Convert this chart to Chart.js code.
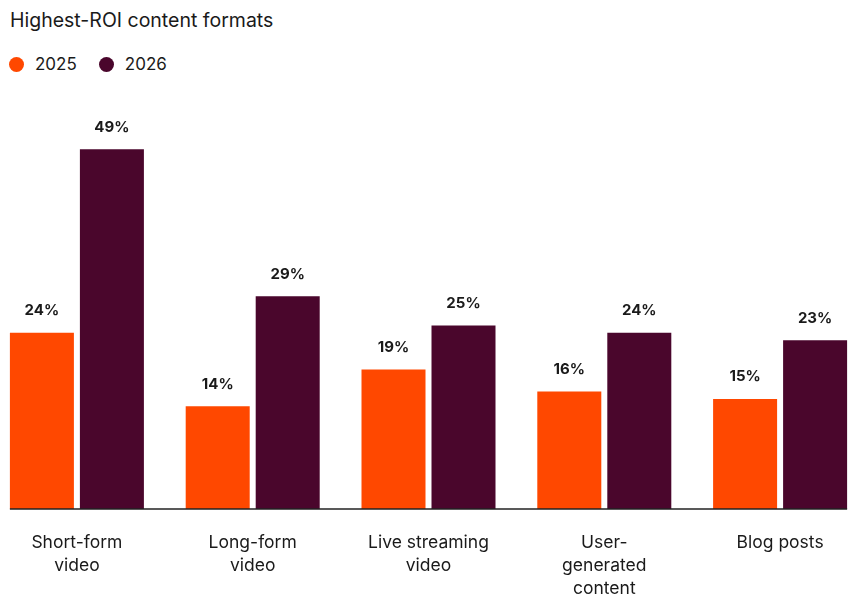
<!DOCTYPE html>
<html>
<head>
<meta charset="utf-8">
<script src="https://cdn.jsdelivr.net/npm/chart.js@4.4.1/dist/chart.umd.min.js"></script>
<style>
  html, body { margin: 0; padding: 0; width: 865px; height: 615px; overflow: hidden; background: #fff; }
  body { position: relative; font-family: Inter, "Noto Sans", sans-serif; color: #1a1a1a; }
  #title { position: absolute; left: 10px; top: 7px; font-size: 19.5px; line-height: 26px; white-space: nowrap; }
  #legend { position: absolute; left: 9px; top: 52px; font-size: 17px; line-height: 24px; display: flex; align-items: center; }
  .item { display: flex; align-items: center; margin-right: 22px; }
  .dot { width: 15px; height: 15px; border-radius: 50%; margin-right: 11px; }
  #wrap { position: absolute; left: -11px; top: 0; width: 879px; height: 615px; }
</style>
</head>
<body>
<div id="title">Highest-ROI content formats</div>
<div id="legend"></div>
<div id="wrap"><canvas id="c"></canvas></div>
<script>
const categories = [["Short-form", "video"], ["Long-form", "video"], ["Live streaming", "video"], ["User-", "generated", "content"], ["Blog posts"]];
const seriesNames = ["2025", "2026"];
const values2025 = [24, 14, 19, 16, 15];
const values2026 = [49, 29, 25, 24, 23];
const seriesColors = ["#FF4800", "#4A062C"];
const FONT = 'Inter, "Noto Sans", sans-serif';

const legend = document.getElementById('legend');
seriesNames.forEach((n, i) => {
  const it = document.createElement('div');
  it.className = 'item';
  const d = document.createElement('span');
  d.className = 'dot';
  d.style.background = seriesColors[i];
  const t = document.createElement('span');
  t.textContent = n;
  it.appendChild(d); it.appendChild(t);
  legend.appendChild(it);
});

const valueLabels = {
  id: 'valueLabels',
  afterDatasetsDraw(chart) {
    const ctx = chart.ctx;
    ctx.save();
    ctx.font = 'bold 15px ' + FONT;
    ctx.fillStyle = '#1a1a1a';
    ctx.textAlign = 'center';
    ctx.textBaseline = 'middle';
    chart.data.datasets.forEach((ds, di) => {
      chart.getDatasetMeta(di).data.forEach((bar, i) => {
        ctx.fillText(ds.data[i] + '%', bar.x, bar.y - 22);
      });
    });
    ctx.restore();
  }
};

const baseline = {
  id: 'baseline',
  afterDatasetsDraw(chart) {
    const m0 = chart.getDatasetMeta(0).data;
    const m1 = chart.getDatasetMeta(chart.data.datasets.length - 1).data;
    const first = m0[0], last = m1[m1.length - 1];
    const x0 = first.x - first.width / 2;
    const x1 = last.x + last.width / 2;
    const y = chart.scales.y.getPixelForValue(0);
    const ctx = chart.ctx;
    ctx.save();
    ctx.strokeStyle = '#222';
    ctx.lineWidth = 1.6;
    ctx.beginPath();
    ctx.moveTo(x0, y);
    ctx.lineTo(x1, y);
    ctx.stroke();
    ctx.restore();
  }
};

new Chart(document.getElementById('c'), {
  type: 'bar',
  data: {
    labels: categories,
    datasets: [
      { label: seriesNames[0], data: values2025, backgroundColor: seriesColors[0] },
      { label: seriesNames[1], data: values2026, backgroundColor: seriesColors[1] }
    ]
  },
  options: {
    responsive: true,
    maintainAspectRatio: false,
    animation: false,
    categoryPercentage: 0.7964,
    barPercentage: 0.9143,
    layout: { padding: { top: 68.6, left: 0, right: 0, bottom: 0 } },
    plugins: { legend: { display: false }, title: { display: false }, tooltip: { enabled: false } },
    scales: {
      x: {
        grid: { display: false, drawTicks: false },
        border: { display: false },
        ticks: {
          padding: 22,
          maxRotation: 0,
          autoSkip: false,
          color: '#1a1a1a',
          font: { family: FONT, size: 17.5, lineHeight: 1.314 }
        },
        afterFit(scale) { scale.height = 106; }
      },
      y: {
        display: false,
        min: 0,
        max: 60
      }
    }
  },
  plugins: [valueLabels, baseline]
});
</script>
</body>
</html>
